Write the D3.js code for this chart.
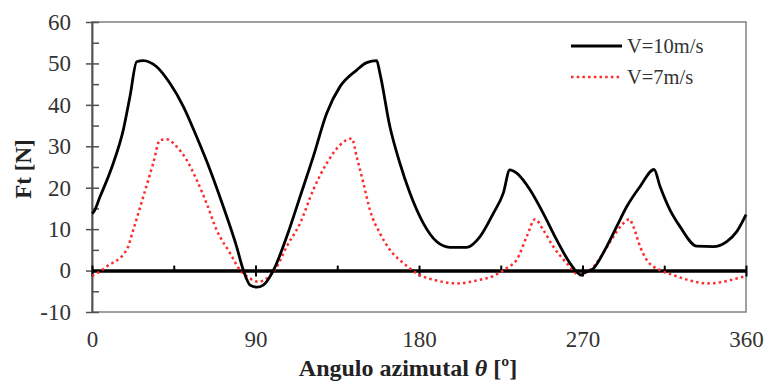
<!DOCTYPE html>
<html>
<head>
<meta charset="utf-8">
<script src="https://cdn.jsdelivr.net/npm/d3@7"></script>
<style>
  body { margin: 0; background: #fff; }
  text { font-family: "Liberation Serif", "Times New Roman", serif; }
</style>
</head>
<body>
<div id="chart"></div>
<script>
// angle (deg) and force (N)
var theta10 = [0, 0.7, 4.4, 11.7, 17.2, 20.9, 24.6, 28.2, 35.6, 42.9, 50.3, 57.6, 65, 72.3, 79.6, 83.3, 87, 90.6, 94.3, 99.8,
  107.2, 114.5, 121.8, 129.2, 136.5, 145.7, 151.2, 156.7, 158.5, 164, 169.5, 175, 182.4, 189.7, 197, 206.3, 213.6, 220.9,
  226.4, 230, 233.8, 241.1, 248.4, 255.8, 263.1, 269.5, 270.4, 276, 283.3, 288.8, 294.3, 301.7, 309.4, 312.7, 318.2,
  323.7, 332.9, 342, 349.4, 354.9, 360];
var force10 = [13.8, 14.0, 17.8, 25.9, 33.9, 42, 50.4, 50.7, 49.2, 45.2, 39.6, 32.3, 24.3, 15.4, 5.8, 0.1, -3.5, -4.0, -3.5, 0,
  8.2, 17.8, 27.5, 38, 44.4, 48.4, 50.2, 50.7, 47.6, 34.7, 25.9, 18.7, 11.4, 7, 5.6, 5.6, 8.2, 13.8,
  18.7, 24.3, 23.5, 19.5, 13.8, 7.4, 1.8, -1.1, -0.7, 0.5, 5.8, 10.6, 15.4, 20.3, 24.4, 20.3, 14.6,
  10.6, 5.9, 5.8, 7, 9.4, 13.5];

var theta7 = [0, 0.7, 8.1, 19.1, 22.7, 28.2, 33.7, 37.4, 41.1, 46.6, 52.1, 57.6, 63.1, 68.6, 76, 81.5, 87, 91.5, 96.2, 101.7,
  107.2, 114.5, 121.8, 129.2, 136.5, 143, 145.7, 149.4, 153, 158.5, 164, 171.4, 180.5, 189.7, 200.7, 211.7, 220.9,
  228.3, 233.8, 239.3, 243.9, 248.4, 253.9, 261.3, 268.6, 270.4, 276, 281.4, 287, 291.6, 295.8, 298, 301.7, 305.3,
  312.7, 320, 329.2, 338.3, 347.5, 354.9, 360];
var force7 = [-1.2, -1.1, 1, 5, 9.8, 17.8, 25.9, 31.5, 31.7, 29.9, 26.7, 21.9, 16.2, 9.8, 4.2, 0.1, -1.9, -2.7, -1.9, 0.9,
  5.8, 11.4, 19.5, 25.9, 30.3, 31.9, 27.5, 21.1, 14.6, 9, 5, 1.8, -1.1, -2.4, -3.1, -2.4, -1.3,
  0.6, 2.6, 8.2, 12.4, 9.8, 5.8, 1.8, -1.1, -0.8, 0.9, 4.2, 8.2, 11, 12.4, 10.6, 5.8, 2.6,
  0.1, -1.1, -2.4, -3.1, -2.7, -1.9, -1.3];

var seriesNames = ["V=10m/s", "V=7m/s"];
var xTicks = [0, 90, 180, 270, 360];
var yTicks = [-10, 0, 10, 20, 30, 40, 50, 60];

var width = 766, height = 383;
var margin = { top: 22, left: 92, right: 20, bottom: 71 };

var svg = d3.select("#chart").append("svg")
  .attr("width", width)
  .attr("height", height);

var x = d3.scaleLinear().domain([0, 360]).range([margin.left, width - margin.right]);
var y = d3.scaleLinear().domain([-10, 60]).range([height - margin.bottom, margin.top]);

// frame
svg.append("rect")
  .attr("x", x(0)).attr("y", y(60))
  .attr("width", x(360) - x(0)).attr("height", y(-10) - y(60))
  .attr("fill", "none").attr("stroke", "#808080").attr("stroke-width", 1.5);

// y axis: labels + outer ticks, inner minor ticks every 5
var yAxis = svg.append("g")
  .attr("transform", "translate(" + x(0) + ",0)")
  .call(d3.axisLeft(y).tickValues(yTicks).tickSize(6).tickSizeOuter(0).tickPadding(15)
    .tickFormat(function(d) { return String(d); }));
svg.append("g")
  .attr("transform", "translate(" + x(0) + ",0)")
  .call(d3.axisRight(y).tickValues(d3.range(-10, 61, 5)).tickSize(7).tickSizeOuter(0).tickFormat(""));
svg.selectAll(".domain").attr("stroke", "#505050").attr("stroke-width", 1.5);
svg.selectAll(".tick line").attr("stroke", "#505050").attr("stroke-width", 1.5);
yAxis.selectAll("text").attr("font-size", 23).attr("fill", "#333");

// x labels at the bottom
var xAxis = svg.append("g")
  .attr("transform", "translate(0," + y(-10) + ")")
  .call(d3.axisBottom(x).tickValues(xTicks).tickSize(0).tickPadding(19));
xAxis.select(".domain").remove();
xAxis.selectAll("text").attr("font-size", 23).attr("fill", "#333");

// zero line with ticks
var zero = svg.append("g").attr("transform", "translate(0," + y(0) + ")");
zero.call(d3.axisTop(x).tickValues(d3.range(0, 361, 45)).tickSize(5).tickSizeOuter(0).tickFormat(""));
zero.append("g").call(d3.axisBottom(x).tickValues(xTicks).tickSize(6).tickSizeOuter(0).tickFormat(""));
zero.selectAll(".domain").attr("stroke", "#000").attr("stroke-width", 3);
zero.selectAll(".tick line").attr("stroke", "#000").attr("stroke-width", 2);

var line = d3.line()
  .x(function(d) { return x(d[0]); })
  .y(function(d) { return y(d[1]); })
  .curve(d3.curveMonotoneX);

svg.append("path")
  .datum(d3.zip(theta7, force7))
  .attr("d", line)
  .attr("fill", "none")
  .attr("stroke", "#ff2a2a")
  .attr("stroke-width", 2.5)
  .attr("stroke-dasharray", "2.5,3.2");

svg.append("path")
  .datum(d3.zip(theta10, force10))
  .attr("d", line)
  .attr("fill", "none")
  .attr("stroke", "#000")
  .attr("stroke-width", 2.8)
  .attr("stroke-linejoin", "round");

// legend
var legend = svg.append("g");
var styles = [
  { stroke: "#000", width: 2.8, dash: null },
  { stroke: "#ff2a2a", width: 2.5, dash: "2.5,3.2" }
];
seriesNames.forEach(function(name, i) {
  var ly = 46 + i * 31;
  legend.append("line")
    .attr("x1", 571).attr("x2", 622)
    .attr("y1", ly).attr("y2", ly)
    .attr("stroke", styles[i].stroke)
    .attr("stroke-width", styles[i].width)
    .attr("stroke-dasharray", styles[i].dash);
  legend.append("text")
    .attr("x", 627).attr("y", ly)
    .attr("dy", "0.35em")
    .attr("font-size", 20.5)
    .attr("fill", "#333")
    .text(name);
});

// axis titles
var title = svg.append("text")
  .attr("x", 408).attr("y", 376)
  .attr("text-anchor", "middle")
  .attr("font-size", 24)
  .attr("font-weight", "bold")
  .attr("fill", "#222");
title.append("tspan").text("Angulo azimutal ");
title.append("tspan").attr("font-style", "italic").text("θ");
title.append("tspan").text(" [º]");

svg.append("text")
  .attr("transform", "translate(31,169) rotate(-90)")
  .attr("text-anchor", "middle")
  .attr("font-size", 23)
  .attr("font-weight", "bold")
  .attr("fill", "#222")
  .text("Ft [N]");
</script>
</body>
</html>
